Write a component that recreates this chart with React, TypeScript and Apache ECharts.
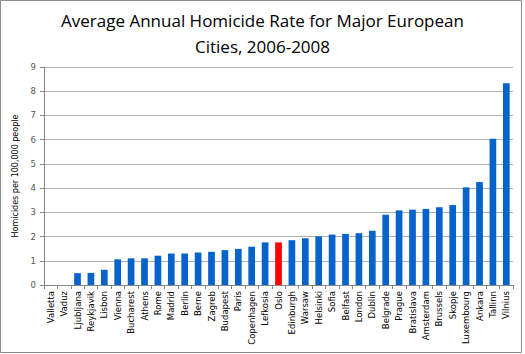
import React, { useEffect, useRef } from "react";
import * as echarts from "echarts";

const cities = [
  "Valletta", "Vaduz", "Ljubljana", "Reykjavik", "Lisbon", "Vienna", "Bucharest", "Athens",
  "Rome", "Madrid", "Berlin", "Berne", "Zagreb", "Budapest", "Paris", "Copenhagen",
  "Lefkosia", "Oslo", "Edinburgh", "Warsaw", "Helsinki", "Sofia", "Belfast", "London",
  "Dublin", "Belgrade", "Prague", "Bratislava", "Amsterdam", "Brussels", "Skopje",
  "Luxembourg", "Ankara", "Tallinn", "Vilnius",
];

const rates = [
  0, 0, 0.49, 0.5, 0.63, 1.06, 1.1, 1.1,
  1.21, 1.3, 1.3, 1.34, 1.37, 1.44, 1.49, 1.58,
  1.76, 1.76, 1.85, 1.93, 2.01, 2.08, 2.11, 2.14,
  2.24, 2.9, 3.08, 3.11, 3.14, 3.21, 3.3,
  4.03, 4.25, 6.04, 8.33,
];

const highlighted = ["Oslo"];
const yTicks = { min: 0, max: 9, interval: 1 };

export default function App() {
  const ref = useRef<HTMLDivElement>(null);
  useEffect(() => {
    const chart = echarts.init(ref.current!, null, { renderer: "svg" });
    chart.setOption({
      animation: false,
      backgroundColor: "#ffffff",
      title: {
        text: "Average Annual Homicide Rate for Major European\nCities, 2006-2008",
        left: "center",
        top: 2,
        textStyle: {
          fontFamily: "Open Sans",
          fontWeight: "normal",
          fontSize: 17,
          lineHeight: 26,
          color: "#000",
        },
      },
      graphic: [
        {
          type: "rect",
          shape: { x: 0.5, y: 0.5, width: 521, height: 352 },
          style: { fill: "none", stroke: "#8c8c8c", lineWidth: 1 },
          silent: true,
        },
      ],
      grid: { left: 44, right: 12, top: 67, bottom: 69 },
      xAxis: {
        type: "category",
        data: cities,
        axisLine: { lineStyle: { color: "#868686" } },
        axisTick: { show: true, alignWithLabel: false, length: 4, lineStyle: { color: "#868686" } },
        axisLabel: {
          rotate: 90,
          interval: 0,
          fontFamily: "DejaVu Sans",
          fontSize: 8.5,
          color: "#000",
          margin: 6,
        },
      },
      yAxis: {
        type: "value",
        min: yTicks.min,
        max: yTicks.max,
        interval: yTicks.interval,
        name: "Homicides per 100,000 people",
        nameLocation: "middle",
        nameGap: 21,
        nameTextStyle: { fontFamily: "DejaVu Sans", fontSize: 8, color: "#000" },
        axisLine: { show: true, lineStyle: { color: "#868686" } },
        axisTick: { show: true, length: 4, lineStyle: { color: "#868686" } },
        axisLabel: { fontFamily: "DejaVu Sans", fontSize: 8.5, color: "#555", margin: 8 },
        splitLine: { lineStyle: { color: "#b0b0b0", width: 1 } },
      },
      series: [
        {
          type: "bar",
          barWidth: "50%",
          data: rates.map((v, i) => ({
            value: v,
            itemStyle: {
              color: highlighted.includes(cities[i]) ? "#ff0000" : "#0563c9",
            },
          })),
        },
      ],
    });
    return () => chart.dispose();
  }, []);
  return (
    <div
      ref={ref}
      style={{ position: "fixed", left: 0, top: 0, width: 525, height: 354 }}
    />
  );
}
